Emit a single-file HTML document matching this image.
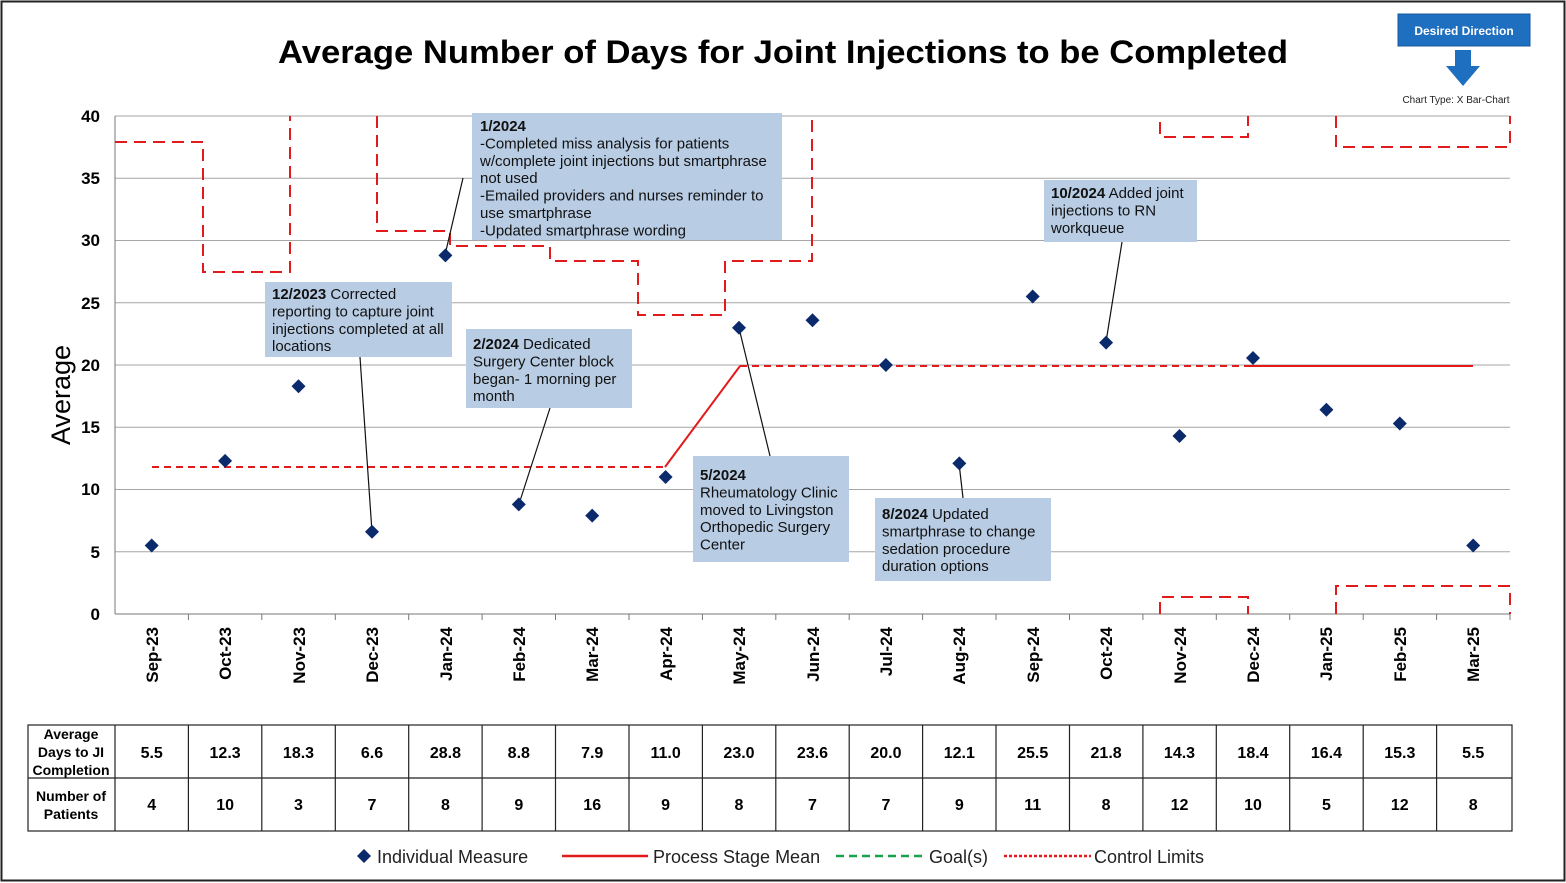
<!DOCTYPE html><html><head><style>body{margin:0;background:#fff}svg{display:block;font-family:"Liberation Sans",Arial,sans-serif}</style></head><body>
<svg width="1566" height="883" viewBox="0 0 1566 883">
<rect x="1.5" y="1.5" width="1563" height="879" fill="#fff" stroke="#222" stroke-width="2"/>
<text x="278" y="63" font-size="32" font-weight="bold" textLength="1010" lengthAdjust="spacingAndGlyphs">Average Number of Days for Joint Injections to be Completed</text>
<rect x="1398" y="14" width="132" height="32" fill="#1f6fc0" stroke="#17589a"/>
<text x="1464" y="35" text-anchor="middle" font-size="12" font-weight="bold" fill="#fff">Desired Direction</text>
<polygon points="1455,50 1471,50 1471,66 1480,66 1463,86 1446,66 1455,66" fill="#1f6fc0"/>
<text x="1456" y="103" text-anchor="middle" font-size="10" fill="#222">Chart Type: X Bar-Chart</text>
<g stroke="#a6a6a6" stroke-width="1">
<line x1="115" y1="116" x2="1510" y2="116"/><line x1="115" y1="178.25" x2="1510" y2="178.25"/><line x1="115" y1="240.5" x2="1510" y2="240.5"/><line x1="115" y1="302.75" x2="1510" y2="302.75"/><line x1="115" y1="365" x2="1510" y2="365"/><line x1="115" y1="427.25" x2="1510" y2="427.25"/><line x1="115" y1="489.5" x2="1510" y2="489.5"/><line x1="115" y1="551.75" x2="1510" y2="551.75"/>
</g>
<line x1="115" y1="614" x2="1510" y2="614" stroke="#777"/>
<line x1="115" y1="116" x2="115" y2="614" stroke="#777"/>
<g font-size="17" font-weight="bold" text-anchor="end">
<text x="100" y="122">40</text><text x="100" y="184">35</text><text x="100" y="246">30</text><text x="100" y="309">25</text><text x="100" y="371">20</text><text x="100" y="433">15</text><text x="100" y="495">10</text><text x="100" y="558">5</text><text x="100" y="620">0</text>
</g>
<text transform="translate(70,395) rotate(-90)" text-anchor="middle" font-size="27">Average</text>
<g stroke="#777">
<line x1="188.4" y1="614" x2="188.4" y2="620"/><line x1="261.8" y1="614" x2="261.8" y2="620"/><line x1="335.3" y1="614" x2="335.3" y2="620"/><line x1="408.7" y1="614" x2="408.7" y2="620"/><line x1="482.1" y1="614" x2="482.1" y2="620"/><line x1="555.5" y1="614" x2="555.5" y2="620"/><line x1="629" y1="614" x2="629" y2="620"/><line x1="702.4" y1="614" x2="702.4" y2="620"/><line x1="775.8" y1="614" x2="775.8" y2="620"/><line x1="849.2" y1="614" x2="849.2" y2="620"/><line x1="922.6" y1="614" x2="922.6" y2="620"/><line x1="996" y1="614" x2="996" y2="620"/><line x1="1069.5" y1="614" x2="1069.5" y2="620"/><line x1="1142.9" y1="614" x2="1142.9" y2="620"/><line x1="1216.3" y1="614" x2="1216.3" y2="620"/><line x1="1289.7" y1="614" x2="1289.7" y2="620"/><line x1="1363.2" y1="614" x2="1363.2" y2="620"/><line x1="1436.6" y1="614" x2="1436.6" y2="620"/><line x1="1510" y1="614" x2="1510" y2="620"/>
</g>
<g font-size="17" font-weight="bold" text-anchor="end">
<text transform="translate(158,627) rotate(-90)">Sep-23</text><text transform="translate(231,627) rotate(-90)">Oct-23</text><text transform="translate(305,627) rotate(-90)">Nov-23</text><text transform="translate(378,627) rotate(-90)">Dec-23</text><text transform="translate(452,627) rotate(-90)">Jan-24</text><text transform="translate(525,627) rotate(-90)">Feb-24</text><text transform="translate(598,627) rotate(-90)">Mar-24</text><text transform="translate(672,627) rotate(-90)">Apr-24</text><text transform="translate(745,627) rotate(-90)">May-24</text><text transform="translate(819,627) rotate(-90)">Jun-24</text><text transform="translate(892,627) rotate(-90)">Jul-24</text><text transform="translate(965,627) rotate(-90)">Aug-24</text><text transform="translate(1039,627) rotate(-90)">Sep-24</text><text transform="translate(1112,627) rotate(-90)">Oct-24</text><text transform="translate(1186,627) rotate(-90)">Nov-24</text><text transform="translate(1259,627) rotate(-90)">Dec-24</text><text transform="translate(1332,627) rotate(-90)">Jan-25</text><text transform="translate(1406,627) rotate(-90)">Feb-25</text><text transform="translate(1479,627) rotate(-90)">Mar-25</text>
</g>
<g fill="none" stroke="#e31a1c" stroke-width="2" stroke-dasharray="12,7">
<polyline points="115,142 203,142 203,272 290,272 290,116"/>
<polyline points="377,116 377,231 450,231 450,246 550,246 550,261 638,261 638,315 725,315 725,261 812,261 812,116"/>
<polyline points="1160,122 1160,137 1248,137 1248,116"/>
<polyline points="1336,116 1336,147 1510,147 1510,116"/>
<polyline points="1160,614 1160,597 1248,597 1248,614"/>
<polyline points="1336,614 1336,586 1510,586 1510,614"/>
</g>
<g fill="none" stroke="#e31a1c" stroke-width="2">
<line x1="152" y1="467" x2="665" y2="467" stroke-dasharray="7,5"/>
<line x1="665" y1="467" x2="740" y2="366"/>
<line x1="740" y1="366" x2="1250" y2="366" stroke-dasharray="7,5"/>
<line x1="1250" y1="366" x2="1473" y2="366"/>
</g>
<g stroke="#111" stroke-width="1.2">
<line x1="463" y1="178" x2="445" y2="255"/><line x1="360" y1="357" x2="372" y2="532"/><line x1="550" y1="408" x2="519" y2="504"/><line x1="770" y1="456" x2="739" y2="328"/><line x1="963" y1="498" x2="959" y2="463"/><line x1="1122" y1="242" x2="1106" y2="342"/>
</g>
<g fill="#b8cce4">
<rect x="472" y="113" width="310" height="127"/><rect x="265" y="282" width="187" height="75"/><rect x="466" y="329" width="166" height="79"/><rect x="693" y="456" width="156" height="106"/><rect x="875" y="498" width="176" height="83"/><rect x="1044" y="180" width="153" height="62"/>
</g>
<g font-size="15" fill="#111">
<text x="480" y="131"><tspan font-weight="bold">1/2024</tspan><tspan x="480" dy="17.4">-Completed miss analysis for patients</tspan><tspan x="480" dy="17.4">w/complete joint injections but smartphrase</tspan><tspan x="480" dy="17.4">not used</tspan><tspan x="480" dy="17.4">-Emailed providers and nurses reminder to</tspan><tspan x="480" dy="17.4">use smartphrase</tspan><tspan x="480" dy="17.4">-Updated smartphrase wording</tspan></text>
<text x="272" y="299"><tspan font-weight="bold">12/2023</tspan> Corrected<tspan x="272" dy="17.4">reporting to capture joint</tspan><tspan x="272" dy="17.4">injections completed at all</tspan><tspan x="272" dy="17.4">locations</tspan></text>
<text x="473" y="349"><tspan font-weight="bold">2/2024</tspan> Dedicated<tspan x="473" dy="17.4">Surgery Center block</tspan><tspan x="473" dy="17.4">began- 1 morning per</tspan><tspan x="473" dy="17.4">month</tspan></text>
<text x="700" y="480"><tspan font-weight="bold">5/2024</tspan><tspan x="700" dy="17.4">Rheumatology Clinic</tspan><tspan x="700" dy="17.4">moved to Livingston</tspan><tspan x="700" dy="17.4">Orthopedic Surgery</tspan><tspan x="700" dy="17.4">Center</tspan></text>
<text x="882" y="519"><tspan font-weight="bold">8/2024</tspan> Updated<tspan x="882" dy="17.4">smartphrase to change</tspan><tspan x="882" dy="17.4">sedation procedure</tspan><tspan x="882" dy="17.4">duration options</tspan></text>
<text x="1051" y="198"><tspan font-weight="bold">10/2024</tspan> Added joint<tspan x="1051" dy="17.4">injections to RN</tspan><tspan x="1051" dy="17.4">workqueue</tspan></text>
</g>
<g fill="#0b2a6b">
<path d="M151.7,538.5l7,7-7,7-7-7z"/><path d="M225.1,453.9l7,7-7,7-7-7z"/><path d="M298.5,379.2l7,7-7,7-7-7z"/><path d="M372,524.8l7,7-7,7-7-7z"/><path d="M445.4,248.4l7,7-7,7-7-7z"/><path d="M518.8,497.4l7,7-7,7-7-7z"/><path d="M592.2,508.6l7,7-7,7-7-7z"/><path d="M665.6,470l7,7-7,7-7-7z"/><path d="M739,320.7l7,7-7,7-7-7z"/><path d="M812.5,313.2l7,7-7,7-7-7z"/><path d="M885.9,358l7,7-7,7-7-7z"/><path d="M959.3,456.4l7,7-7,7-7-7z"/><path d="M1032.7,289.5l7,7-7,7-7-7z"/><path d="M1106.1,335.6l7,7-7,7-7-7z"/><path d="M1179.5,429l7,7-7,7-7-7z"/><path d="M1253,351l7,7-7,7-7-7z"/><path d="M1326.4,402.8l7,7-7,7-7-7z"/><path d="M1399.8,416.5l7,7-7,7-7-7z"/><path d="M1473.2,538.5l7,7-7,7-7-7z"/>
</g>
<g stroke="#222" stroke-width="1.2" fill="none">
<rect x="28" y="725" width="1484" height="106"/>
<line x1="28" y1="778" x2="1512" y2="778"/>
<line x1="115" y1="725" x2="115" y2="831"/><line x1="188.4" y1="725" x2="188.4" y2="831"/><line x1="261.8" y1="725" x2="261.8" y2="831"/><line x1="335.3" y1="725" x2="335.3" y2="831"/><line x1="408.7" y1="725" x2="408.7" y2="831"/><line x1="482.1" y1="725" x2="482.1" y2="831"/><line x1="555.5" y1="725" x2="555.5" y2="831"/><line x1="629" y1="725" x2="629" y2="831"/><line x1="702.4" y1="725" x2="702.4" y2="831"/><line x1="775.8" y1="725" x2="775.8" y2="831"/><line x1="849.2" y1="725" x2="849.2" y2="831"/><line x1="922.6" y1="725" x2="922.6" y2="831"/><line x1="996" y1="725" x2="996" y2="831"/><line x1="1069.5" y1="725" x2="1069.5" y2="831"/><line x1="1142.9" y1="725" x2="1142.9" y2="831"/><line x1="1216.3" y1="725" x2="1216.3" y2="831"/><line x1="1289.7" y1="725" x2="1289.7" y2="831"/><line x1="1363.2" y1="725" x2="1363.2" y2="831"/><line x1="1436.6" y1="725" x2="1436.6" y2="831"/>
</g>
<g font-size="14" font-weight="bold" text-anchor="middle">
<text x="71" y="739">Average</text><text x="71" y="757">Days to JI</text><text x="71" y="775">Completion</text>
<text x="71" y="801">Number of</text><text x="71" y="819">Patients</text>
</g>
<g font-size="16" font-weight="bold" text-anchor="middle">
<text x="151.7" y="758">5.5</text><text x="225.1" y="758">12.3</text><text x="298.5" y="758">18.3</text><text x="372" y="758">6.6</text><text x="445.4" y="758">28.8</text><text x="518.8" y="758">8.8</text><text x="592.2" y="758">7.9</text><text x="665.6" y="758">11.0</text><text x="739" y="758">23.0</text><text x="812.5" y="758">23.6</text><text x="885.9" y="758">20.0</text><text x="959.3" y="758">12.1</text><text x="1032.7" y="758">25.5</text><text x="1106.1" y="758">21.8</text><text x="1179.5" y="758">14.3</text><text x="1253" y="758">18.4</text><text x="1326.4" y="758">16.4</text><text x="1399.8" y="758">15.3</text><text x="1473.2" y="758">5.5</text>
<text x="151.7" y="810">4</text><text x="225.1" y="810">10</text><text x="298.5" y="810">3</text><text x="372" y="810">7</text><text x="445.4" y="810">8</text><text x="518.8" y="810">9</text><text x="592.2" y="810">16</text><text x="665.6" y="810">9</text><text x="739" y="810">8</text><text x="812.5" y="810">7</text><text x="885.9" y="810">7</text><text x="959.3" y="810">9</text><text x="1032.7" y="810">11</text><text x="1106.1" y="810">8</text><text x="1179.5" y="810">12</text><text x="1253" y="810">10</text><text x="1326.4" y="810">5</text><text x="1399.8" y="810">12</text><text x="1473.2" y="810">8</text>
</g>
<path d="M364,849l7,7-7,7-7-7z" fill="#0b2a6b"/>
<g font-size="18" fill="#222"><text x="377" y="863">Individual Measure</text><text x="653" y="863">Process Stage Mean</text><text x="929" y="863">Goal(s)</text><text x="1094" y="863">Control Limits</text></g>
<line x1="562" y1="856" x2="648" y2="856" stroke="#e31a1c" stroke-width="2.5"/>
<line x1="836" y1="856" x2="924" y2="856" stroke="#1aa24a" stroke-width="2.5" stroke-dasharray="8,5"/>
<line x1="1004" y1="856" x2="1091" y2="856" stroke="#e31a1c" stroke-width="2.5" stroke-dasharray="3,2"/>
</svg></body></html>
